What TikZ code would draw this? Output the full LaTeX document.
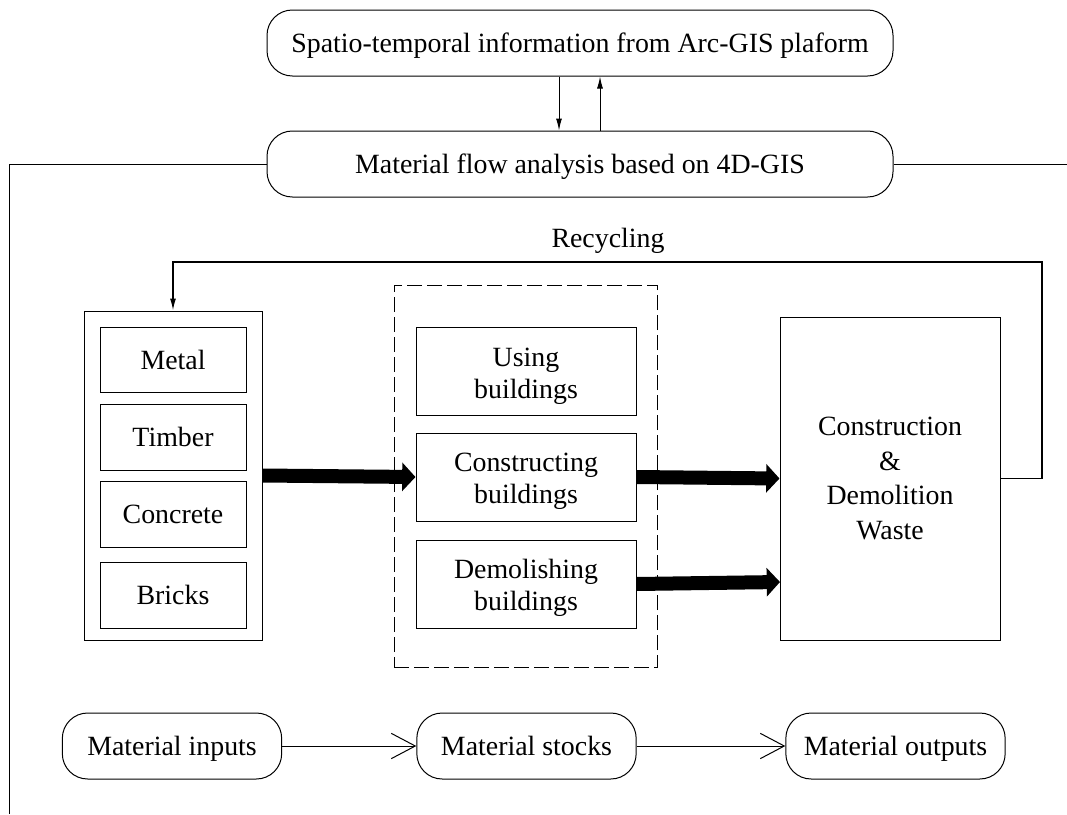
\documentclass[tikz,border=0pt]{standalone}
\usepackage{fontspec}
\setmainfont{Liberation Serif}
\usetikzlibrary{arrows.meta}
\tikzset{
	every node/.style={font=\fontsize{20.9}{24}\selectfont,align=center,inner sep=0pt},
	onebox/.style={text height=14pt,text depth=0.5pt},
	roundbox/.style={draw,onebox,rounded corners=19pt,minimum width=164.5pt,minimum height=49.5pt},
	widebox/.style={roundbox,minimum width=469.5pt},
	matbox/.style={draw,onebox,minimum width=109.5pt,minimum height=49pt},
	stepbox/.style={draw,minimum width=165pt,minimum height=66pt},
	bigarrow/.style={line width=10.5pt,-{Triangle[length=10pt,width=21pt]}},
	thinarrow/.style={-{Latex[length=9pt,width=4.5pt]}},
	openarrow/.style={-{Straight Barb[length=18pt,width=19pt]}}
}
\begin{document}
\begin{tikzpicture}[x=0.75pt,y=-0.75pt,line width=0.75pt]
	\useasboundingbox (0,0) rectangle (1067,814);
	% top of the figure
	\node[widebox] (gis) at (580,43) {Spatio-temporal information from Arc-GIS plaform};
	\node[widebox] (mfa) at (580,164) {Material flow analysis based on 4D-GIS};
	\draw[thinarrow] (gis.south -| 559,0) -- (mfa.north -| 559,0);
	\draw[thinarrow] (mfa.north -| 600,0) -- (gis.south -| 600,0);
	\coordinate (leftend) at (9,814);
	\coordinate (rightend) at (1067,164);
	\draw (mfa.west) -| (leftend);
	\draw (mfa.east) -- (rightend);
	% materials
	\node[draw,minimum width=133.5pt,minimum height=246.75pt] (input) at (173,475.5) {};
	\node[matbox] (metal) at (173,360) {Metal};
	\node[matbox] (timber) at (173,437.5) {Timber};
	\node[matbox] (concrete) at (173,514.5) {Concrete};
	\node[matbox] (bricks) at (173,595.5) {Bricks};
	% buildings
	\node[draw,dashed,dash pattern=on 11pt off 4pt,minimum width=197.25pt,minimum height=286.5pt] (stock) at (525.5,476) {};
	\node[stepbox] (using) at (526,371) {\rule{0pt}{22pt}Using\\buildings};
	\node[stepbox] (construct) at (526,477) {\rule{0pt}{20pt}Constructing\\buildings};
	\node[stepbox] (demolish) at (526,584) {\rule{0pt}{20pt}Demolishing\\buildings};
	\node[draw,minimum width=165pt,minimum height=242.25pt,font=\fontsize{20.9}{26}\selectfont] (waste) at (890,478.5) {Construction\\\&\\Demolition\\Waste};
	\coordinate (wastein) at (780,582);
	\draw[bigarrow] (input.east) -- (construct.west);
	\draw[bigarrow] (construct.east) -- (waste.west);
	\draw[bigarrow] (demolish.east) -- (wastein);
	% recycling loop
	\coordinate (loopright) at (1042,262);
	\node (recycling) at (608,241) {Recycling};
	\draw[thinarrow,line width=1.1pt] (waste.east) -- (loopright |- waste.east) -- (loopright) -| (input.north);
	% bottom row
	\node[roundbox] (inputs) at (172,746) {Material inputs};
	\node[roundbox] (stocks) at (526.5,746) {Material stocks};
	\node[roundbox] (outputs) at (895.5,746) {Material outputs};
	\draw[openarrow] (inputs) -- (stocks);
	\draw[openarrow] (stocks) -- (outputs);
\end{tikzpicture}
\end{document}
